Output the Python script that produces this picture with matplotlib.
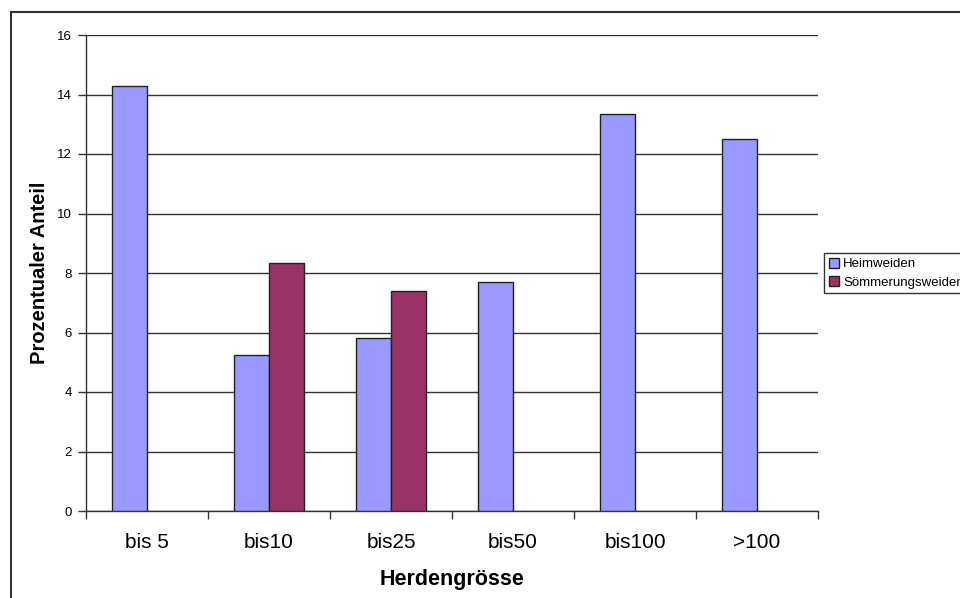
import matplotlib
matplotlib.use("Agg")
import matplotlib.pyplot as plt
import numpy as np
from matplotlib.patches import Rectangle

categories = ["bis 5", "bis10", "bis25", "bis50", "bis100", ">100"]
heimweiden = [14.29, 5.26, 5.81, 7.69, 13.33, 12.5]
soemmerung = [np.nan, 8.33, 7.41, np.nan, np.nan, np.nan]
yticks = list(range(0, 17, 2))

plt.rcParams["font.family"] = ["Liberation Sans", "DejaVu Sans"]

fig = plt.figure(figsize=(9.6, 5.98), dpi=100)
ax = fig.add_axes([86 / 960, 87 / 598, 732 / 960, 476 / 598])

x = np.arange(len(categories)) + 0.5
w = 0.285
ax.bar(x - w / 2, heimweiden, w, color="#9999ff", edgecolor="#222222",
       linewidth=1.0, label="Heimweiden", zorder=3)
ax.bar(x + w / 2, soemmerung, w, color="#993366", edgecolor="#222222",
       linewidth=1.0, label="Sömmerungsweiden", zorder=3)

ax.set_xlim(0, len(categories))
ax.set_ylim(0, 16)
ax.set_yticks(yticks)
ax.set_yticklabels([str(t) for t in yticks], fontsize=9.5)
ax.yaxis.grid(True, color="#333333", linewidth=1.0, zorder=0)

# category labels sit between the boundary ticks
ax.set_xticks(range(len(categories) + 1))
ax.set_xticklabels([])
ax.set_xticks(x, minor=True)
ax.set_xticklabels(categories, minor=True, fontsize=15)
ax.tick_params(axis="x", which="minor", length=0, pad=16)
ax.tick_params(axis="x", which="major", length=6, width=1, color="#333333")
ax.tick_params(axis="y", length=6, width=1, color="#333333", pad=4)

for side in ("top", "right"):
    ax.spines[side].set_visible(False)
for side in ("left", "bottom"):
    ax.spines[side].set_color("#333333")
    ax.spines[side].set_linewidth(1.0)

ax.set_xlabel("Herdengrösse", fontsize=15.5, fontweight="bold", labelpad=12)
ax.set_ylabel("Prozentualer Anteil", fontsize=14.5, fontweight="bold", labelpad=6)

fig.legend(loc="upper left", bbox_to_anchor=(824 / 960, 1 - 253 / 598),
           fontsize=9.5, frameon=True, fancybox=False, edgecolor="black",
           borderpad=0.35, labelspacing=0.45, handlelength=0.8, handleheight=0.8,
           handletextpad=0.3, borderaxespad=0)
fig.legends[0].get_frame().set_linewidth(1.0)

# chart-area border, open at the right and bottom edges
fig.patches.append(Rectangle((11 / 960, -0.1), 1.1, 1 - 12 / 598 + 0.1,
                             transform=fig.transFigure, fill=False,
                             edgecolor="#333333", linewidth=1.5))

fig.savefig("out.png", dpi=100)
